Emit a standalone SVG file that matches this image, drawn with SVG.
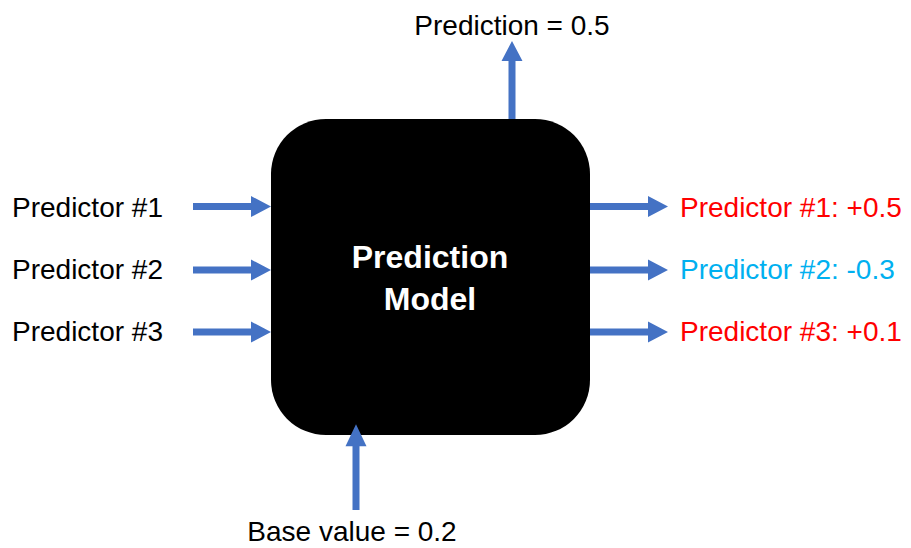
<svg xmlns="http://www.w3.org/2000/svg" width="911" height="548" viewBox="0 0 911 548">
<style>
.t{font-family:"Liberation Sans",Arial,sans-serif;font-size:28px;fill:#000}
.w{font-family:"Liberation Sans",Arial,sans-serif;font-size:32px;font-weight:bold;fill:#fff}
.r{fill:#FF0000}
.c{fill:#00B0F0}
.a{fill:#4472C4}
</style>
<defs>
<path id="ar" class="a" d="M0,-3.5 L58,-3.5 L58,-10.5 L78,0 L58,10.5 L58,3.5 L0,3.5 Z"/>
</defs>
<rect width="911" height="548" fill="#fff"/>
<g id="model">
<rect x="271" y="119" width="319" height="316" rx="55" ry="55" fill="#000"/>
<text class="w" x="430" y="268" text-anchor="middle">Prediction</text>
<text class="w" x="430" y="310" text-anchor="middle">Model</text>
</g>
<g id="connectors">
<use href="#ar" transform="translate(193,206.5)"/>
<use href="#ar" transform="translate(193,270)"/>
<use href="#ar" transform="translate(193,332)"/>
<use href="#ar" transform="translate(590,206.5)"/>
<use href="#ar" transform="translate(590,270)"/>
<use href="#ar" transform="translate(590,332)"/>
<use href="#ar" transform="translate(512,119) rotate(-90)"/>
<use href="#ar" transform="translate(356,510) rotate(-90) scale(1.1,1)"/>
</g>
<g id="in1"><text class="t" x="12" y="217">Predictor #1</text></g>
<g id="in2"><text class="t" x="12" y="279">Predictor #2</text></g>
<g id="in3"><text class="t" x="12" y="341">Predictor #3</text></g>
<g id="out1"><text class="t r" x="680" y="217">Predictor #1: +0.5</text></g>
<g id="out2"><text class="t c" x="680" y="279">Predictor #2: -0.3</text></g>
<g id="out3"><text class="t r" x="680" y="341">Predictor #3: +0.1</text></g>
<g id="prediction"><text class="t" x="512" y="35" text-anchor="middle">Prediction = 0.5</text></g>
<g id="base"><text class="t" x="352" y="541" text-anchor="middle">Base value = 0.2</text></g>
</svg>
